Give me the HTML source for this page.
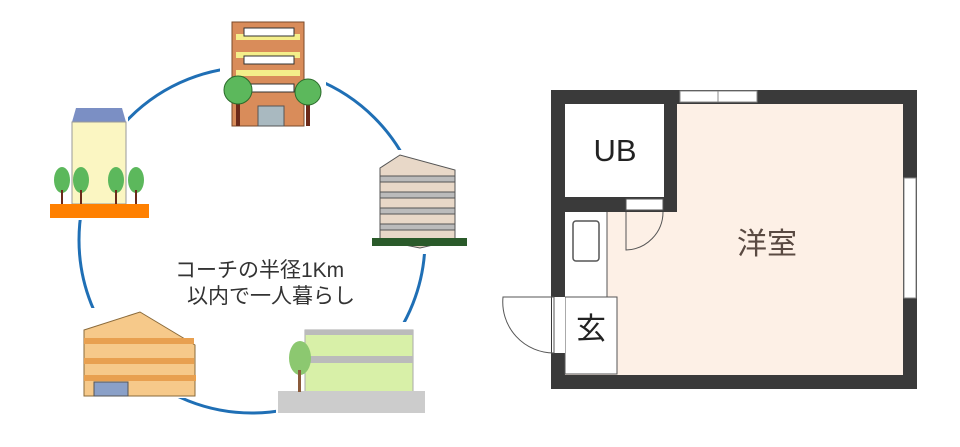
<!DOCTYPE html>
<html><head><meta charset="utf-8"><style>
body{margin:0;background:#fff;width:960px;height:442px;overflow:hidden;font-family:"Liberation Sans","Noto Sans CJK JP",sans-serif}
</style></head><body>
<svg width="960" height="442" xmlns="http://www.w3.org/2000/svg" font-family="Liberation Sans, Noto Sans CJK JP, sans-serif">
<circle cx="252" cy="240" r="173" fill="none" stroke="#1f6fb5" stroke-width="3"/>
<g fill="#fff">
<rect x="220" y="15" width="106" height="114"/>
<rect x="48" y="106" width="80" height="114"/>
<rect x="48" y="160" width="104" height="60"/>
<rect x="368" y="150" width="102" height="104"/>
<rect x="80" y="308" width="122" height="90"/>
<rect x="276" y="322" width="152" height="95"/>
</g>
<g>
<rect x="232" y="22" width="72" height="104" fill="#d98c5a" stroke="#7a4a2a"/>
<rect x="236" y="34" width="64" height="6" fill="#f4ee8a"/>
<rect x="236" y="52" width="64" height="6" fill="#f4ee8a"/>
<rect x="236" y="70" width="64" height="6" fill="#f4ee8a"/>
<rect x="244" y="28" width="50" height="8" fill="#fff" stroke="#333"/>
<rect x="244" y="56" width="50" height="8" fill="#fff" stroke="#333"/>
<rect x="244" y="84" width="50" height="8" fill="#fff" stroke="#333"/>
<rect x="258" y="106" width="26" height="20" fill="#a9b9c0" stroke="#555"/>
<rect x="236" y="100" width="4" height="26" fill="#6b2a1a"/><circle cx="238" cy="90" r="14" fill="#5cb85c" stroke="#2a6b2a"/>
<rect x="306" y="100" width="4" height="26" fill="#6b2a1a"/><circle cx="308" cy="92" r="13" fill="#5cb85c" stroke="#2a6b2a"/>
</g>
<g>
<polygon points="72,122 76,108 122,108 126,122" fill="#7b8fc4"/>
<rect x="72" y="122" width="54" height="82" fill="#fbf6c2" stroke="#999"/>
<rect x="50" y="204" width="99" height="14" fill="#ff8000"/>
<ellipse cx="62" cy="180" rx="8" ry="13" fill="#5cb85c"/><ellipse cx="81" cy="180" rx="8" ry="13" fill="#5cb85c"/><ellipse cx="116" cy="180" rx="8" ry="13" fill="#5cb85c"/><ellipse cx="136" cy="180" rx="8" ry="13" fill="#5cb85c"/>
<rect x="61" y="190" width="2" height="14" fill="#6b2a1a"/><rect x="80" y="190" width="2" height="14" fill="#6b2a1a"/><rect x="115" y="190" width="2" height="14" fill="#6b2a1a"/><rect x="135" y="190" width="2" height="14" fill="#6b2a1a"/>
</g>
<g>
<polygon points="380,168 400,155 455,170 455,240 420,248 380,240" fill="#e8d8c8" stroke="#555"/>
<g stroke="#555" fill="#bbb"><rect x="380" y="176" width="75" height="6"/><rect x="380" y="192" width="75" height="6"/><rect x="380" y="208" width="75" height="6"/><rect x="380" y="224" width="75" height="6"/></g>
<rect x="372" y="238" width="95" height="8" fill="#2a5a2a"/>
</g>
<g>
<polygon points="84,330 140,312 195,345 195,396 84,396" fill="#f6c98a" stroke="#8a6a3a"/>
<g fill="#e8a050"><rect x="84" y="338" width="110" height="6"/><rect x="84" y="358" width="110" height="6"/><rect x="84" y="375" width="112" height="6"/></g>
<rect x="94" y="382" width="34" height="14" fill="#8aa0c8" stroke="#555"/>
</g>
<g>
<rect x="305" y="330" width="108" height="64" fill="#d8f0a8" stroke="#aaa"/>
<rect x="305" y="330" width="108" height="5" fill="#bbb"/>
<rect x="310" y="356" width="103" height="7" fill="#bbb"/>
<rect x="278" y="391" width="147" height="22" fill="#ccc"/>
<ellipse cx="300" cy="358" rx="11" ry="17" fill="#8cc870"/><rect x="298" y="370" width="3" height="22" fill="#8a5a3a"/>
</g>
<text x="175" y="277" font-size="21" fill="#333">コーチの半径1Km</text>
<text x="187" y="303" font-size="21" fill="#333">以内で一人暮らし</text>

<rect x="551" y="90" width="366" height="299" fill="#3a3a3a"/>
<rect x="565" y="104" width="338" height="271" fill="#fdf0e6"/>
<rect x="565" y="104" width="99" height="93" fill="#fff"/>
<rect x="664" y="90" width="13" height="122" fill="#3a3a3a"/>
<rect x="565" y="197" width="112" height="15" fill="#3a3a3a"/>
<rect x="626" y="199" width="37" height="11" fill="#fff" stroke="#555" stroke-width="1"/>
<path d="M626 212 V250 A38 38 0 0 0 663 212" fill="none" stroke="#555" stroke-width="1"/>
<rect x="680" y="91" width="77" height="11" fill="#fff" stroke="#888"/>
<line x1="718" y1="91" x2="718" y2="102" stroke="#888"/>
<rect x="904" y="178" width="12" height="120" fill="#fff" stroke="#888"/>
<rect x="565" y="212" width="42" height="85" fill="#fff"/>
<line x1="607" y1="212" x2="607" y2="297" stroke="#555"/>
<rect x="573" y="221" width="26" height="40" rx="3" fill="#fff" stroke="#555" stroke-width="1.5"/>
<rect x="565" y="297" width="52" height="77" fill="#fff" stroke="#555"/>
<rect x="552" y="297" width="13" height="56" fill="#fff"/>
<line x1="554" y1="297" x2="554" y2="353" stroke="#555"/>
<path d="M554 297 H503 A51 51 0 0 0 554 353" fill="none" stroke="#555"/>
<text x="615" y="161" font-size="31" text-anchor="middle" fill="#222">UB</text>
<text x="767" y="254" font-size="30" text-anchor="middle" fill="#5a4a42">洋室</text>
<text x="591" y="339" font-size="30" text-anchor="middle" fill="#222">玄</text>
</svg>
</body></html>
